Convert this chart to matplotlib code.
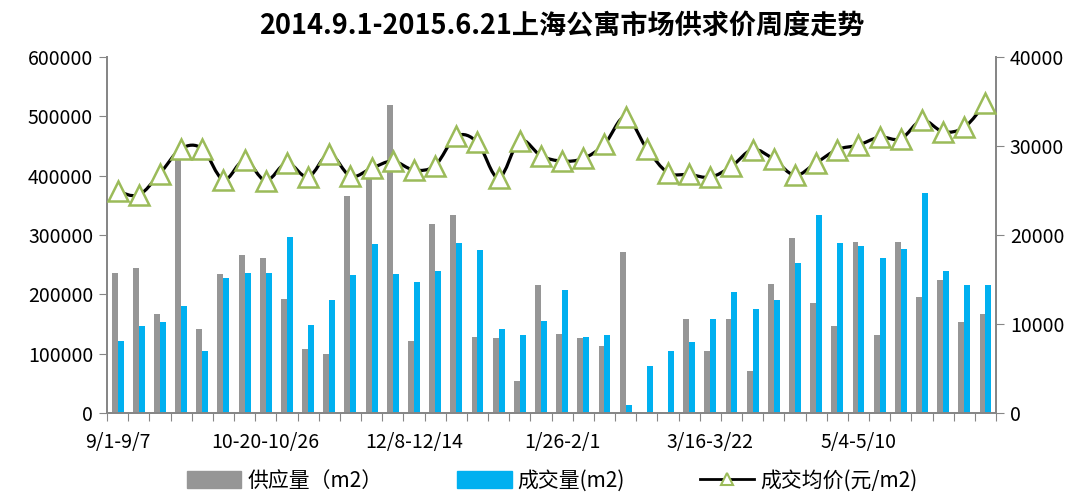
import numpy as np
import matplotlib.pyplot as plt
from matplotlib.path import Path
from matplotlib.patches import PathPatch
from matplotlib.lines import Line2D
from matplotlib.patches import Patch

plt.rcParams['font.family'] = ['Noto Sans CJK SC', 'DejaVu Sans']

# weekly data, 2014-09-01 .. 2015-06-21 (42 weeks)
supply = [236500, 244000, 167000, 432000, 142000, 235000, 266000, 261000, 192000, 108000,
          99000, 365000, 398000, 519000, 122000, 319000, 333000, 128000, 126000, 54000,
          216000, 133000, 126000, 113000, 272000, 0, 0, 158000, 104000, 159000,
          70000, 218000, 295000, 186000, 146000, 289000, 132000, 289000, 195000, 224000,
          153000, 166000]
deals = [122000, 146000, 153000, 181000, 104000, 227000, 236000, 236000, 297000, 149000,
         191000, 233000, 284000, 235000, 221000, 239000, 287000, 275000, 142000, 132000,
         155000, 208000, 128000, 132000, 14000, 79000, 104000, 120000, 158000, 204000,
         176000, 191000, 253000, 334000, 286000, 281000, 261000, 276000, 370000, 239000,
         216000, 215000]
price = [24900, 24500, 26900, 29700, 29700, 26200, 28400, 26100, 28100, 26500,
         29100, 26600, 27500, 28300, 27300, 27800, 31100, 30400, 26400, 30600,
         28900, 28300, 28600, 30200, 33300, 29700, 27000, 26800, 26500, 27700,
         29600, 28500, 26700, 28100, 29600, 30100, 31000, 30800, 32900, 31600,
         32100, 34800]
week_labels = ['9/1-9/7', '10-20-10/26', '12/8-12/14', '1/26-2/1', '3/16-3/22', '5/4-5/10']

gray = '#969696'
blue = '#00B0F0'
green = '#9BBB59'
axis_col = '#868686'

n = len(supply)
x = np.arange(n) + 0.5
w = 0.28

fig = plt.figure(figsize=(10.83, 4.93), dpi=100)
ax = fig.add_axes([0.0988, 0.1623, 0.8209, 0.7221])
ax.bar(x - w / 2, supply, width=w, color=gray, zorder=2)
ax.bar(x + w / 2, deals, width=w, color=blue, zorder=2)
ax.set_xlim(0, n)
ax.set_ylim(0, 600000)
ax.set_yticks(np.arange(0, 600001, 100000))

ax2 = ax.twinx()
ax2.set_ylim(0, 40000)
ax2.set_yticks(np.arange(0, 40001, 10000))

# smooth line through the weekly prices (catmull-rom -> bezier)
pts = np.column_stack([x, price]).astype(float)
ext = np.vstack([pts[0], pts, pts[-1]])
verts = [tuple(pts[0])]
codes = [Path.MOVETO]
for i in range(1, len(ext) - 2):
    p0, p1, p2, p3 = ext[i - 1], ext[i], ext[i + 1], ext[i + 2]
    c1 = p1 + (p2 - p0) / 6
    c2 = p2 - (p3 - p1) / 6
    verts += [tuple(c1), tuple(c2), tuple(p2)]
    codes += [Path.CURVE4] * 3
ax2.add_patch(PathPatch(Path(verts, codes), fill=False, edgecolor='black', lw=2.3, zorder=3))
ax2.plot(x, price, ls='none', marker='^', ms=14, mfc='white', mec=green, mew=1.8, zorder=4)

for a in (ax, ax2):
    a.spines['top'].set_visible(False)
    for s in ('left', 'right', 'bottom'):
        a.spines[s].set_color(axis_col)
        a.spines[s].set_linewidth(1.3)
    a.tick_params(axis='y', direction='out', length=6, color=axis_col, labelsize=14, pad=4)

ax.set_xticks(np.arange(n + 1))
ax.set_xticklabels([])
ax.tick_params(axis='x', which='major', direction='out', length=6, color=axis_col)
ax.set_xticks(x[::7], minor=True)
ax.set_xticklabels(week_labels, minor=True)
ax.tick_params(axis='x', which='minor', length=0, labelsize=14, pad=14)

fig.text(0.519, 0.949, '2014.9.1-2015.6.21上海公寓市场供求价周度走势', ha='center', va='center',
         fontsize=19.5, fontweight='bold')

handles = [Patch(color=gray), Patch(color=blue),
           Line2D([], [], color='black', lw=2, marker='^', ms=8, mfc='white', mec=green, mew=1.5)]
fig.legend(handles, ['供应量（m2）', '成交量(m2)', '成交均价(元/m2)'], loc='lower center',
           bbox_to_anchor=(0.51, -0.035), ncol=3, frameon=False, fontsize=15,
           handlelength=2.6, handleheight=0.9, columnspacing=3.6, handletextpad=0.3)

fig.savefig('out.png', dpi=100)
